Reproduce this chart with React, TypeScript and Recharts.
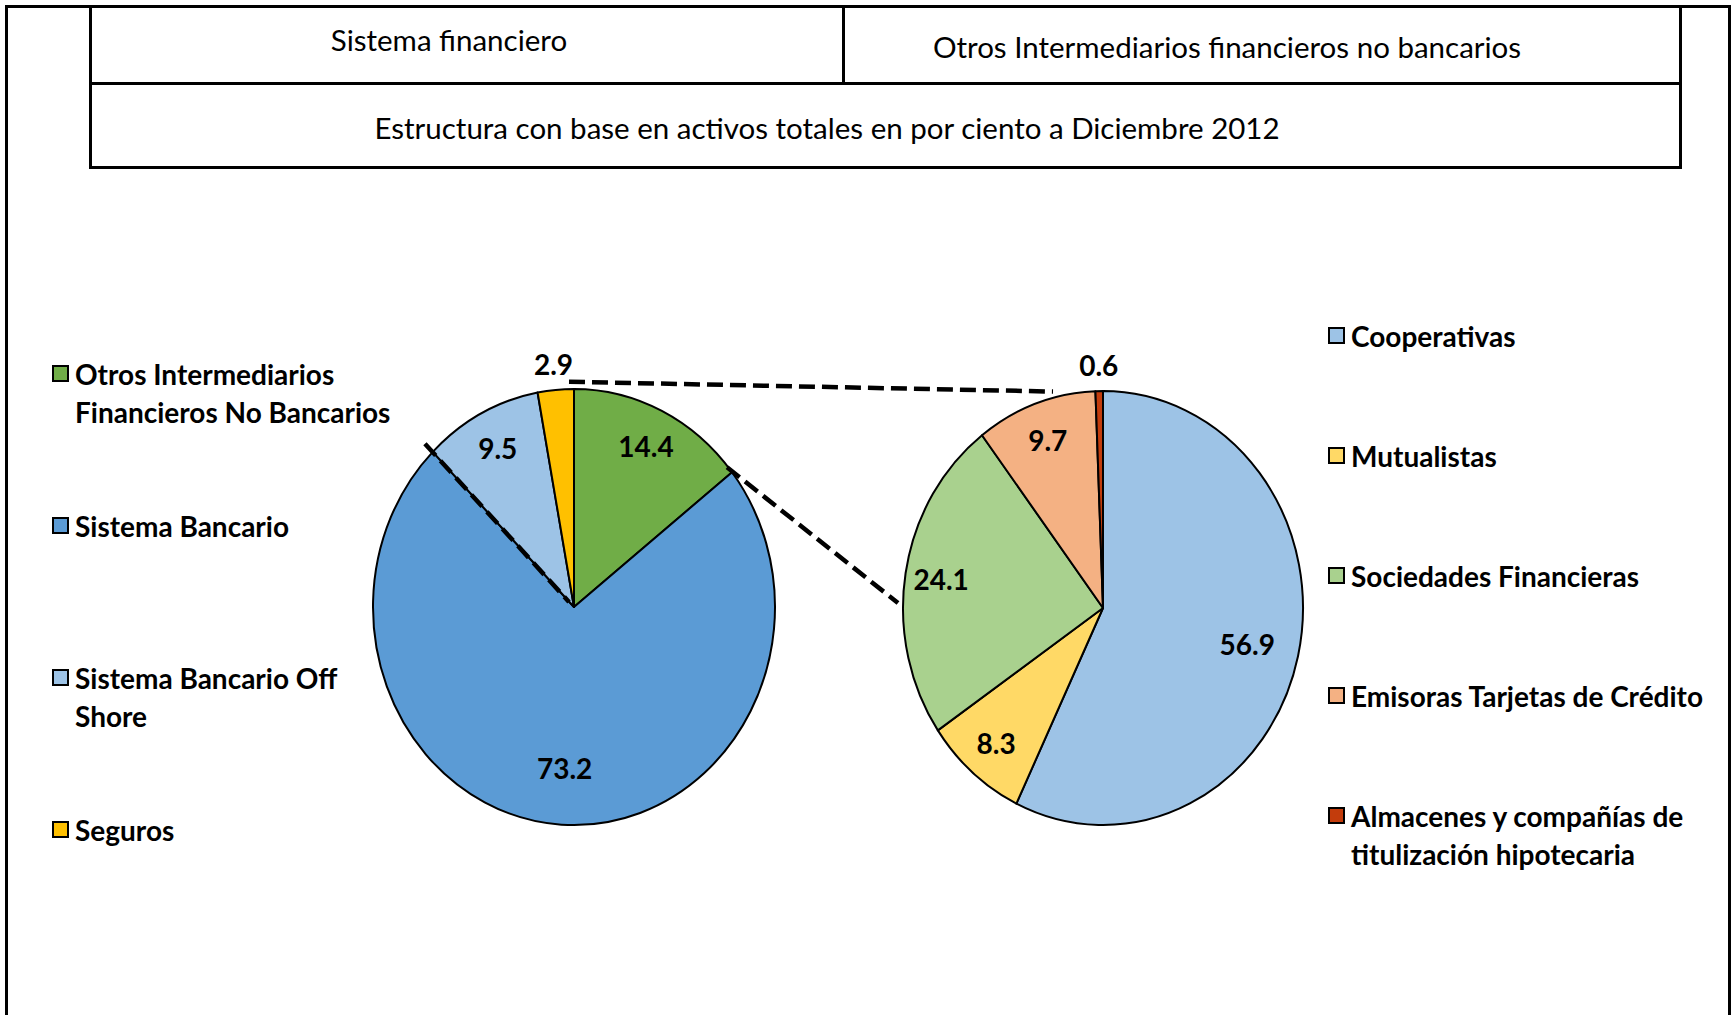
import React from "react";
import { PieChart, Pie, Cell } from "recharts";

// sistema financiero (left pie), clockwise from 12 o'clock
const systemNames = [
  "Otros Intermediarios Financieros No Bancarios",
  "Sistema Bancario",
  "Sistema Bancario Off Shore",
  "Seguros",
];
const systemValues = [14.4, 73.2, 9.5, 2.9];
const systemColors = ["#70AD47", "#5B9BD5", "#9DC3E6", "#FFC000"];
const systemLegendLines = [
  ["Otros Intermediarios", "Financieros No Bancarios"],
  ["Sistema Bancario"],
  ["Sistema Bancario Off", "Shore"],
  ["Seguros"],
];

// otros intermediarios (right pie)
const otherNames = [
  "Cooperativas",
  "Mutualistas",
  "Sociedades Financieras",
  "Emisoras Tarjetas de Crédito",
  "Almacenes y compañías de titulización hipotecaria",
];
const otherValues = [56.9, 8.3, 24.1, 9.7, 0.6];
const otherColors = ["#9DC3E6", "#FFD966", "#A9D18E", "#F4B183", "#C33C0C"];
const otherLegendLines = [
  ["Cooperativas"],
  ["Mutualistas"],
  ["Sociedades Financieras"],
  ["Emisoras Tarjetas de Crédito"],
  ["Almacenes y compañías de", "titulización hipotecaria"],
];

const headerLeft = "Sistema financiero";
const headerRight = "Otros Intermediarios financieros no bancarios";
const headerSub = "Estructura con base en activos totales en por ciento a Diciembre 2012";

const systemData = systemNames.map((name, i) => ({ name, value: systemValues[i] }));
const otherData = otherNames.map((name, i) => ({ name, value: otherValues[i] }));

const FONT = "Lato, 'Open Sans', sans-serif";
const STRETCH = 1.085; // pies are a bit taller than wide
const RAD = Math.PI / 180;

const L = { cx: 569, cy: 602, r: 201 };
const R = { cx: 1098, cy: 603, r: 200 };

const onEllipse = (c: { cx: number; cy: number; r: number }, deg: number, f = 1) => [
  c.cx + c.r * f * Math.cos(deg * RAD),
  c.cy - c.r * STRETCH * f * Math.sin(deg * RAD),
];

const EllipseSector = (p: any) => {
  const { cx, cy, outerRadius, startAngle, endAngle, fill } = p;
  const rx = outerRadius;
  const ry = outerRadius * STRETCH;
  const x1 = cx + rx * Math.cos(startAngle * RAD);
  const y1 = cy - ry * Math.sin(startAngle * RAD);
  const x2 = cx + rx * Math.cos(endAngle * RAD);
  const y2 = cy - ry * Math.sin(endAngle * RAD);
  const large = Math.abs(endAngle - startAngle) > 180 ? 1 : 0;
  const sweep = startAngle > endAngle ? 1 : 0;
  return (
    <path
      d={`M${cx},${cy} L${x1},${y1} A${rx},${ry} 0 ${large} ${sweep} ${x2},${y2} Z`}
      fill={fill}
      stroke="#000"
      strokeWidth={2}
      strokeLinejoin="round"
    />
  );
};

const renderLabel = (p: any) => {
  const { cx, cy, midAngle, outerRadius, value } = p;
  // small slices go outside, big ones sit a bit closer to the centre
  const f = value < 5 ? 1.12 : value > 50 ? 0.74 : 0.82;
  const x = cx + outerRadius * f * Math.cos(midAngle * RAD);
  const y = cy - outerRadius * STRETCH * f * Math.sin(midAngle * RAD);
  return (
    <text
      x={x}
      y={y}
      textAnchor="middle"
      dominantBaseline="central"
      fontFamily={FONT}
      fontWeight={700}
      fontSize={28}
      fill="#000"
    >
      {value.toFixed(1)}
    </text>
  );
};

const line = "#000";

function LegendBlock({
  lines,
  colors,
  x,
  top,
  step,
}: {
  lines: string[][];
  colors: string[];
  x: number;
  top: number;
  step: number;
}) {
  return (
    <>
      {lines.map((ls, i) => (
        <div
          key={i}
          style={{ position: "absolute", left: x, top: top + i * step, fontFamily: FONT, fontWeight: 700, fontSize: 28, lineHeight: "38px", color: "#000" }}
        >
          <div
            style={{ position: "absolute", left: 0, top: 10, width: 17, height: 17, boxSizing: "border-box", border: "2px solid #000", background: colors[i] }}
          />
          <div style={{ marginLeft: 23, whiteSpace: "nowrap" }}>
            {ls.map((t) => (
              <div key={t}>{t}</div>
            ))}
          </div>
        </div>
      ))}
    </>
  );
}

export default function App() {
  const total = systemValues.reduce((a, b) => a + b, 0);
  // connector angles (deg): edges of the "otros" slice on the left pie, anchor points on the right pie
  const otrosEnd = 90 - (systemValues[0] / total) * 360;
  const offShoreStart = 90 - ((systemValues[0] + systemValues[1]) / total) * 360;
  const [ax, ay] = onEllipse(L, 90, 1.01);
  const [bx, by] = onEllipse(R, 103);
  const [cx1, cy1] = onEllipse(L, otrosEnd);
  const [dx, dy] = onEllipse(R, 180);
  const [ex, ey] = onEllipse(L, offShoreStart, 1.02);

  const headStyle: React.CSSProperties = {
    position: "absolute",
    transform: "translate(-50%,-50%)",
    fontFamily: FONT,
    fontSize: 29.5,
    whiteSpace: "nowrap",
  };

  return (
    <div style={{ position: "relative", width: 1733, height: 1015, overflow: "hidden", background: "#fff" }}>
      <style>{"body{margin:0}"}</style>

      {/* outer frame */}
      <div style={{ position: "absolute", left: 5, top: 5, width: 1726, height: 1100, boxSizing: "border-box", border: `3px solid ${line}` }} />

      {/* header table */}
      <div style={{ position: "absolute", left: 89, top: 5, width: 1593, height: 164, boxSizing: "border-box", border: `3px solid ${line}` }} />
      <div style={{ position: "absolute", left: 89, top: 82, width: 1593, height: 3, background: line }} />
      <div style={{ position: "absolute", left: 842, top: 5, width: 3, height: 79, background: line }} />
      <div style={{ ...headStyle, left: 449, top: 39 }}>{headerLeft}</div>
      <div style={{ ...headStyle, left: 1227, top: 46 }}>{headerRight}</div>
      <div style={{ ...headStyle, left: 827, top: 127 }}>{headerSub}</div>

      <div style={{ position: "absolute", left: 0, top: 0 }}>
        <PieChart width={1733} height={1015}>
          <Pie
            data={systemData}
            dataKey="value"
            nameKey="name"
            cx={L.cx}
            cy={L.cy}
            outerRadius={L.r}
            startAngle={90}
            endAngle={-270}
            shape={EllipseSector}
            label={renderLabel}
            labelLine={false}
            isAnimationActive={false}
          >
            {systemData.map((d, i) => (
              <Cell key={d.name} fill={systemColors[i]} />
            ))}
          </Pie>
          <Pie
            data={otherData}
            dataKey="value"
            nameKey="name"
            cx={R.cx}
            cy={R.cy}
            outerRadius={R.r}
            startAngle={90}
            endAngle={-270}
            shape={EllipseSector}
            label={renderLabel}
            labelLine={false}
            isAnimationActive={false}
          >
            {otherData.map((d, i) => (
              <Cell key={d.name} fill={otherColors[i]} />
            ))}
          </Pie>
        </PieChart>
      </div>

      {/* pie-of-pie connectors */}
      <svg width={1733} height={1015} style={{ position: "absolute", left: 0, top: 0, pointerEvents: "none" }}>
        <g stroke="#000" strokeWidth={4.5} strokeDasharray="16 7" fill="none">
          <line x1={ax} y1={ay} x2={bx} y2={by} />
          <line x1={cx1} y1={cy1} x2={dx} y2={dy} />
          <line x1={ex} y1={ey} x2={L.cx} y2={L.cy} />
        </g>
      </svg>

      <LegendBlock lines={systemLegendLines} colors={systemColors} x={52} top={355} step={152} />
      <LegendBlock lines={otherLegendLines} colors={otherColors} x={1328} top={317} step={120} />
    </div>
  );
}
